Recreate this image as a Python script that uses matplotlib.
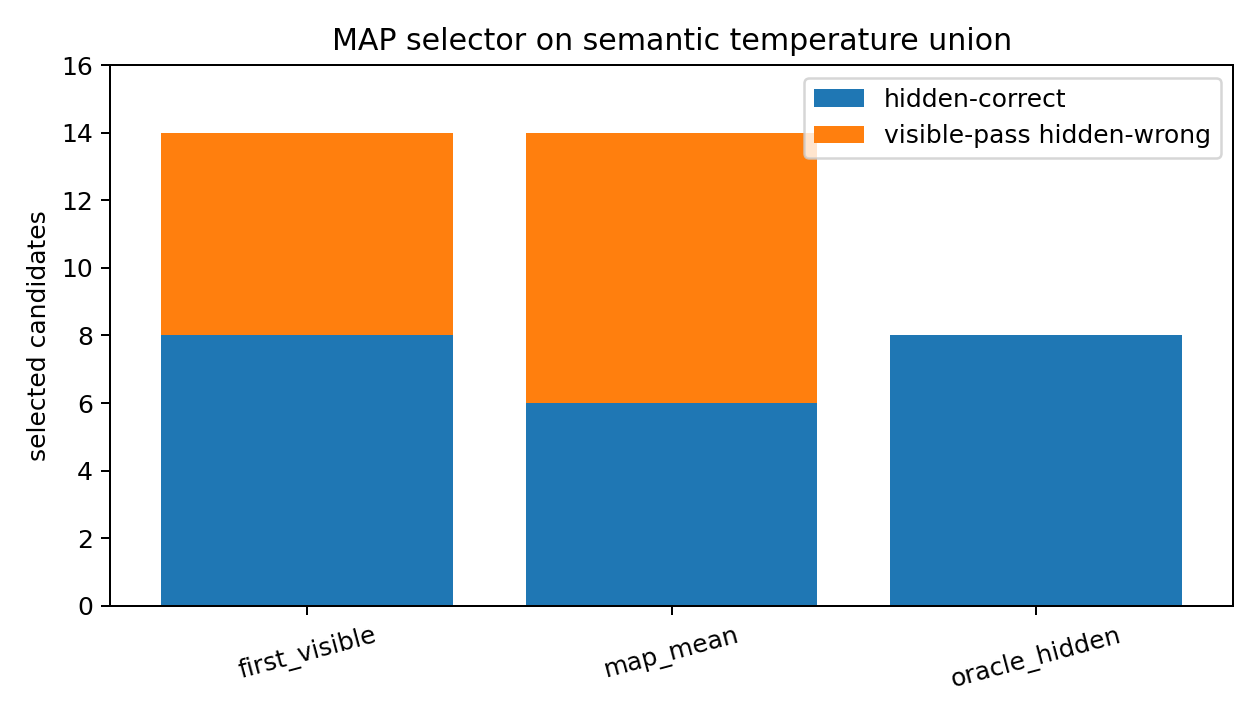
import matplotlib
matplotlib.use("Agg")
import matplotlib.pyplot as plt

categories = ["first_visible", "map_mean", "oracle_hidden"]
hidden_correct = [8, 6, 8]
visible_wrong = [6, 8, 0]

fig, ax = plt.subplots(figsize=(7, 4), dpi=180)
ax.bar(categories, hidden_correct, label="hidden-correct", color="#1f77b4")
ax.bar(categories, visible_wrong, bottom=hidden_correct, label="visible-pass hidden-wrong", color="#ff7f0e")
ax.set_ylim(0, 16)
ax.set_ylabel("selected candidates")
ax.set_title("MAP selector on semantic temperature union")
ax.legend(loc="upper right")
plt.setp(ax.get_xticklabels(), rotation=15)
fig.tight_layout()
fig.savefig("out.png", dpi=180)
